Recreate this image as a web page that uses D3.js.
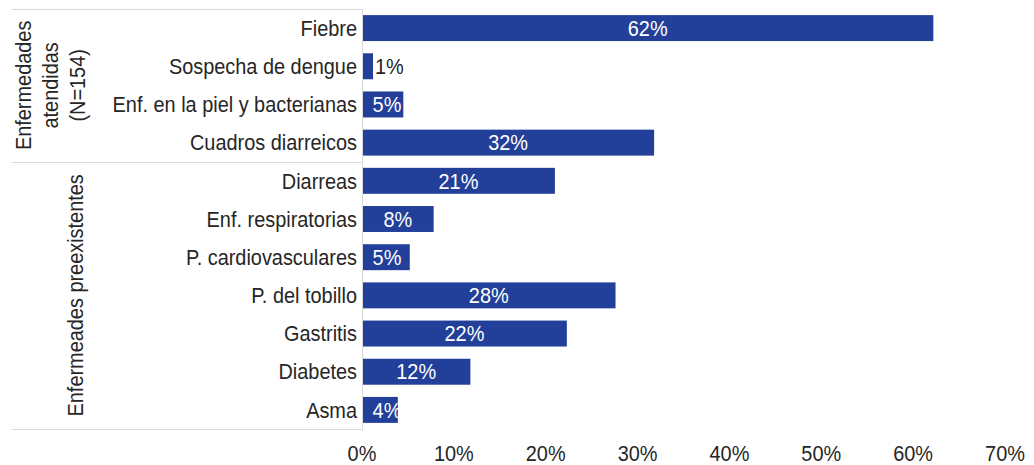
<!DOCTYPE html>
<html>
<head>
<meta charset="utf-8">
<script src="https://cdn.jsdelivr.net/npm/d3@7"></script>
<style>
  html, body { margin: 0; padding: 0; background: #ffffff; }
  svg text { font-family: "Liberation Sans", Arial, sans-serif; }
</style>
</head>
<body>
<svg id="chart" width="1034" height="465"></svg>
<script>
const categories = [
  "Fiebre",
  "Sospecha de dengue",
  "Enf. en la piel y bacterianas",
  "Cuadros diarreicos",
  "Diarreas",
  "Enf. respiratorias",
  "P. cardiovasculares",
  "P. del tobillo",
  "Gastritis",
  "Diabetes",
  "Asma",
];
const values = [62.2, 1.2, 4.5, 31.8, 21, 7.8, 5.2, 27.6, 22.3, 11.8, 3.9];
const groups = [
  { lines: ["Enfermedades", "atendidas", "(N=154)"], from: 0, to: 3 },
  { lines: ["Enfermeades preexistentes"], from: 4, to: 10 },
];
const xTicks = [0, 10, 20, 30, 40, 50, 60, 70];

const BAR_COLOR = "#22409a";
const TEXT_COLOR = "#262626";
const LINE_COLOR = "#d9d9d9";
const FONT_SIZE = 22;
const NARROW = 0.905; // the source font is a bit condensed

const svg = d3.select("#chart");

const x = d3.scaleLinear().domain([0, 70]).range([362, 1005]);
const y = d3.scaleBand()
  .domain(categories)
  .range([9, 429])
  .paddingInner(0.32)
  .paddingOuter(0.16);

const rows = categories.map((category, i) => ({ category, value: values[i] }));

function placeText(sel, px, py, rotate) {
  return sel.attr("transform", (d, i) => {
    const tx = typeof px === "function" ? px(d, i) : px;
    const ty = typeof py === "function" ? py(d, i) : py;
    return `translate(${tx},${ty})${rotate ? " rotate(-90)" : ""} scale(${NARROW},1)`;
  })
    .attr("dy", "0.35em")
    .attr("font-size", FONT_SIZE);
}

// frame lines of the category block
const frame = svg.append("g").attr("stroke", LINE_COLOR).attr("stroke-width", 1);
const bandTop = (i) => y(categories[i]) - y.step() * y.paddingInner() / 2;
const bandBottom = (i) => y(categories[i]) + y.bandwidth() + y.step() * y.paddingInner() / 2;
const hLines = [9, bandBottom(3), 429];
frame.selectAll("line.h")
  .data(hLines)
  .join("line")
  .attr("class", "h")
  .attr("x1", 12)
  .attr("x2", x(0))
  .attr("y1", (d) => Math.round(d) + 0.5)
  .attr("y2", (d) => Math.round(d) + 0.5);
frame.append("line")
  .attr("x1", x(0) + 0.5)
  .attr("x2", x(0) + 0.5)
  .attr("y1", 9)
  .attr("y2", 430);

// bars
svg.append("g")
  .selectAll("rect")
  .data(rows)
  .join("rect")
  .attr("x", x(0) + 1)
  .attr("y", (d) => y(d.category))
  .attr("width", (d) => x(d.value) - x(0) - 1)
  .attr("height", y.bandwidth())
  .attr("fill", BAR_COLOR);

// value labels
svg.append("g")
  .selectAll("text")
  .data(rows)
  .join("text")
  .call(placeText,
    (d) => (d.value < 2 ? x(d.value) + 2 : Math.max((x(0) + x(d.value)) / 2, x(0) + 25)),
    (d) => y(d.category) + y.bandwidth() / 2)
  .attr("text-anchor", (d) => (d.value < 2 ? "start" : "middle"))
  .attr("fill", (d) => (d.value < 2 ? TEXT_COLOR : "#ffffff"))
  .text((d) => `${Math.round(d.value)}%`);

// category labels
svg.append("g")
  .selectAll("text")
  .data(categories)
  .join("text")
  .call(placeText, x(0) - 5, (d) => y(d) + y.bandwidth() / 2)
  .attr("text-anchor", "end")
  .attr("fill", TEXT_COLOR)
  .text((d) => d);

// group labels (rotated)
const groupLineX = [[23, 50, 77], [75]];
groups.forEach((group, gi) => {
  const cy = (bandTop(group.from) + bandBottom(group.to)) / 2;
  group.lines.forEach((line, li) => {
    svg.append("text")
      .call(placeText, groupLineX[gi][li], cy, true)
      .attr("text-anchor", "middle")
      .attr("fill", TEXT_COLOR)
      .text(line);
  });
});

// x axis tick labels
svg.append("g")
  .selectAll("text")
  .data(xTicks)
  .join("text")
  .call(placeText, (d) => x(d), 453)
  .attr("text-anchor", "middle")
  .attr("fill", TEXT_COLOR)
  .text((d) => `${d}%`);
</script>
</body>
</html>
